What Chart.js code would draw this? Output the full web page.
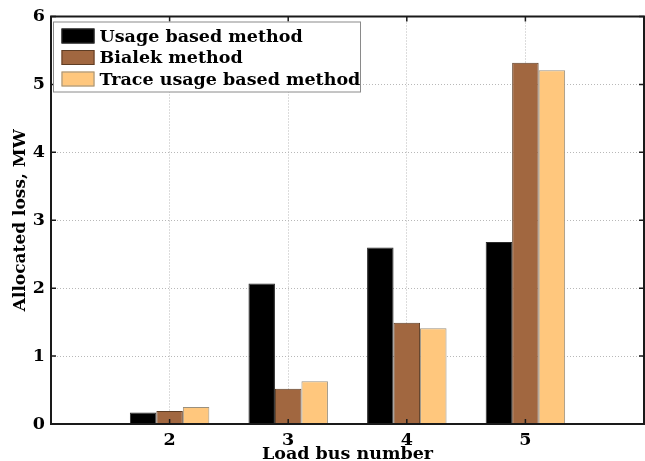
<!DOCTYPE html>
<html>
<head>
<meta charset="utf-8">
<script src="https://cdn.jsdelivr.net/npm/chart.js@4"></script>
<style>
    html, body { margin: 0; padding: 0; background: #fff; }
    #wrap { width: 645px; height: 461px; }
</style>
</head>
<body>
<div id="wrap"><canvas id="lossChart" width="645" height="461"></canvas></div>
<script>
const busNumbers = [2, 3, 4, 5];
const usageBased = [0.17, 2.07, 2.60, 2.68];
const bialek = [0.19, 0.52, 1.49, 5.32];
const traceUsage = [0.25, 0.63, 1.41, 5.21];
const yTicks = [0, 1, 2, 3, 4, 5, 6];

const seriesNames = ['Usage based method', 'Bialek method', 'Trace usage based method'];

const colors = {
    black: '#000000',
    brown: '#a16740',
    peach: '#ffc77d',
    grid: '#b8b8b8',
    axis: '#1a1a1a'
};

const FONT = "'DejaVu Serif', 'Liberation Serif', serif";

function toPoints(values) {
    return busNumbers.map((b, i) => ({ x: b, y: values[i] }));
}

// frame, inside tick marks and the boxed legend drawn MATLAB style
const framePlugin = {
    id: 'frame',
    afterDatasetsDraw(chart) {
        const { ctx, chartArea: a, scales } = chart;
        ctx.save();
        ctx.strokeStyle = colors.axis;
        ctx.lineWidth = 2;
        ctx.strokeRect(a.left, a.top, a.right - a.left, a.bottom - a.top);

        ctx.lineWidth = 1.5;
        yTicks.forEach(v => {
            const y = scales.y.getPixelForValue(v);
            ctx.beginPath();
            ctx.moveTo(a.left, y); ctx.lineTo(a.left + 5, y);
            ctx.moveTo(a.right, y); ctx.lineTo(a.right - 5, y);
            ctx.stroke();
        });
        busNumbers.forEach(v => {
            const x = scales.x.getPixelForValue(v);
            ctx.beginPath();
            ctx.moveTo(x, a.top); ctx.lineTo(x, a.top + 5);
            ctx.moveTo(x, a.bottom); ctx.lineTo(x, a.bottom - 5);
            ctx.stroke();
        });

        // legend
        const bx = a.left + 2.5, by = a.top + 5.5, bw = 307, bh = 70;
        ctx.fillStyle = '#fff';
        ctx.fillRect(bx, by, bw, bh);
        ctx.strokeStyle = '#8a8a8a';
        ctx.lineWidth = 1;
        ctx.strokeRect(bx, by, bw, bh);

        ctx.font = 'bold 17.5px ' + FONT;
        ctx.textBaseline = 'middle';
        chart.data.datasets.forEach((ds, i) => {
            const cy = by + 14 + i * 21.5;
            ctx.fillStyle = ds.backgroundColor;
            ctx.fillRect(bx + 8, cy - 7.5, 33, 15);
            ctx.strokeStyle = ds.borderColor;
            ctx.strokeRect(bx + 8.5, cy - 7, 32, 14);
            ctx.fillStyle = '#000';
            ctx.fillText(ds.label, bx + 46, cy + 1);
        });
        ctx.restore();
    }
};

const ctx = document.getElementById('lossChart').getContext('2d');
new Chart(ctx, {
    type: 'bar',
    data: {
        datasets: [
            {
                label: seriesNames[0],
                data: toPoints(usageBased),
                backgroundColor: colors.black,
                borderColor: '#2a2a2a',
                borderWidth: 1
            },
            {
                label: seriesNames[1],
                data: toPoints(bialek),
                backgroundColor: colors.brown,
                borderColor: '#5e3d24',
                borderWidth: 1
            },
            {
                label: seriesNames[2],
                data: toPoints(traceUsage),
                backgroundColor: colors.peach,
                borderColor: '#9a907e',
                borderWidth: 1
            }
        ]
    },
    options: {
        responsive: false,
        animation: false,
        categoryPercentage: 0.67,
        barPercentage: 1,
        layout: { padding: { top: 16, right: 1, bottom: 0, left: 0 } },
        plugins: {
            legend: { display: false },
            tooltip: { enabled: false }
        },
        scales: {
            x: {
                type: 'linear',
                min: 1,
                max: 6,
                offset: false,
                afterFit(scale) { scale.height = 37; },
                afterBuildTicks(scale) {
                    scale.ticks = busNumbers.map(v => ({ value: v }));
                },
                grid: {
                    color: colors.grid,
                    lineWidth: 1,
                    drawTicks: false,
                    offset: false
                },
                border: { display: false, dash: [1, 2] },
                ticks: {
                    color: '#000',
                    padding: 6,
                    font: { family: FONT, size: 17.5, weight: 'bold' }
                },
                title: {
                    display: true,
                    text: 'Load bus number',
                    color: '#000',
                    padding: 0,
                    font: { family: FONT, size: 17.5, weight: 'bold', lineHeight: 0.75 }
                }
            },
            y: {
                min: 0,
                max: 6,
                afterFit(scale) { scale.width = 51; },
                afterBuildTicks(scale) {
                    scale.ticks = yTicks.map(v => ({ value: v }));
                },
                grid: {
                    color: colors.grid,
                    lineWidth: 1,
                    drawTicks: false
                },
                border: { display: false, dash: [1, 2] },
                ticks: {
                    color: '#000',
                    padding: 6,
                    font: { family: FONT, size: 17.5, weight: 'bold' }
                },
                title: {
                    display: true,
                    text: 'Allocated loss, MW',
                    color: '#000',
                    padding: { top: 10, bottom: 0 },
                    font: { family: FONT, size: 17, weight: 'bold' }
                }
            }
        }
    },
    plugins: [framePlugin]
});
</script>
</body>
</html>
